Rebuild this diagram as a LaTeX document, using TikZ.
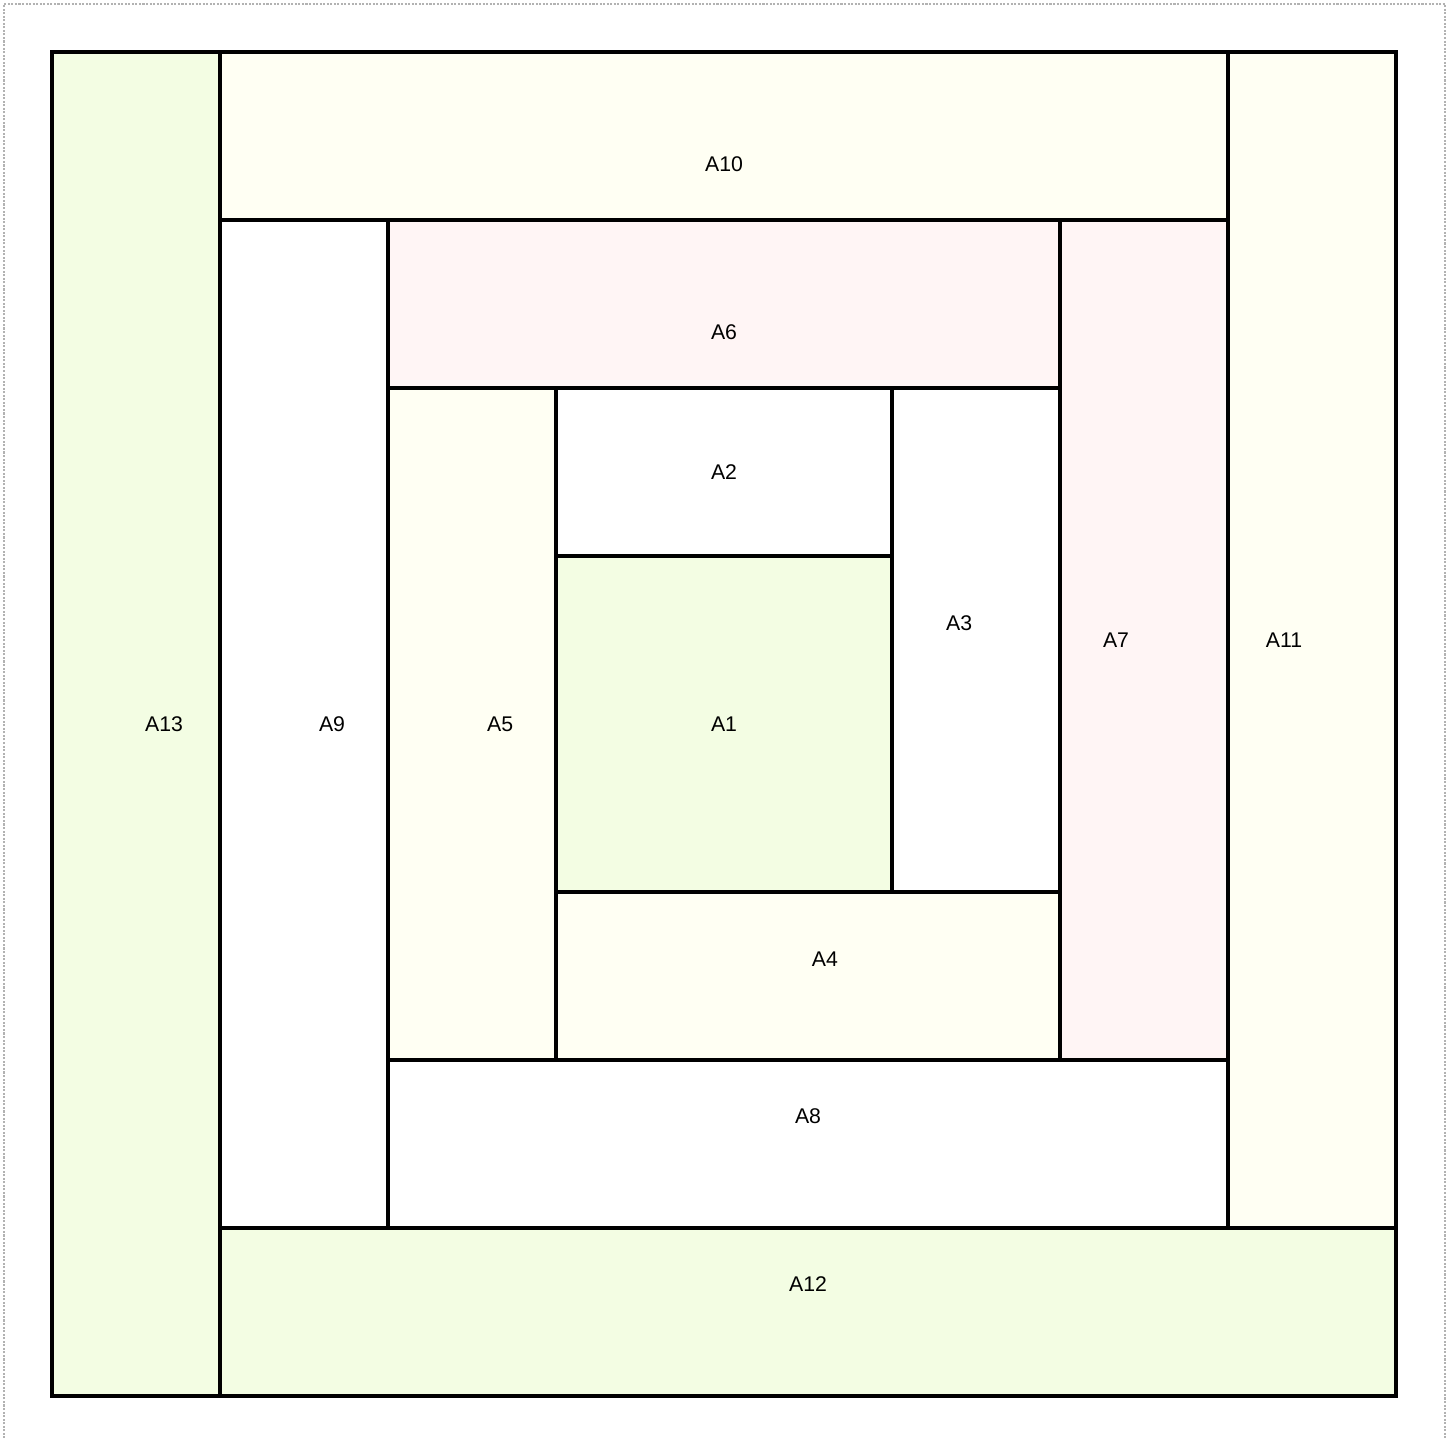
\documentclass[tikz,border=0pt]{standalone}
\usepackage{fontspec}
\setmainfont{Liberation Sans}
\definecolor{patchgreen}{RGB}{243,253,227}
\definecolor{patchyellow}{RGB}{255,255,243}
\definecolor{patchpink}{RGB}{255,245,245}

\begin{document}
\begin{tikzpicture}[patch/.style={draw=black, line width=0.55pt}, lbl/.style={font=\fontsize{3.6}{4}\selectfont}]
        % Canvas
        \useasboundingbox (-0.3095,-0.244) rectangle (8.351,8.3095);
        \draw[gray!60, line width=0.25pt, dash pattern=on 0.35pt off 0.25pt] (-0.286,-0.4) rectangle (8.292,8.286);

        % Outer ring
        \draw[patch, fill=patchgreen] (0,0) rectangle (1,8);
        \draw[patch, fill=patchyellow] (1,7) rectangle (7,8);
        \draw[patch, fill=patchyellow] (7,1) rectangle (8,8);
        \draw[patch, fill=patchgreen] (1,0) rectangle (8,1);

        % Middle ring
        \draw[patch, fill=white] (1,1) rectangle (2,7);
        \draw[patch, fill=patchpink] (2,6) rectangle (6,7);
        \draw[patch, fill=patchpink] (6,2) rectangle (7,7);
        \draw[patch, fill=white] (2,1) rectangle (7,2);

        % Inner ring
        \draw[patch, fill=patchyellow] (2,2) rectangle (3,6);
        \draw[patch, fill=white] (3,5) rectangle (5,6);
        \draw[patch, fill=white] (5,3) rectangle (6,6);
        \draw[patch, fill=patchyellow] (3,2) rectangle (6,3);

        % Centre
        \draw[patch, fill=patchgreen] (3,3) rectangle (5,5);

        % Labels
        \node[lbl] (a1) at (4,4) {A1};
        \node[lbl] (a2) at (4,5.5) {A2};
        \node[lbl] (a3) at (5.4,4.6) {A3};
        \node[lbl] (a4) at (4.6,2.6) {A4};
        \node[lbl] (a5) at (2.667,4) {A5};
        \node[lbl] (a6) at (4,6.333) {A6};
        \node[lbl] (a7) at (6.333,4.5) {A7};
        \node[lbl] (a8) at (4.5,1.667) {A8};
        \node[lbl] (a9) at (1.667,4) {A9};
        \node[lbl] (a10) at (4,7.333) {A10};
        \node[lbl] (a11) at (7.333,4.5) {A11};
        \node[lbl] (a12) at (4.5,0.667) {A12};
        \node[lbl] (a13) at (0.667,4) {A13};
    \end{tikzpicture}
\end{document}
